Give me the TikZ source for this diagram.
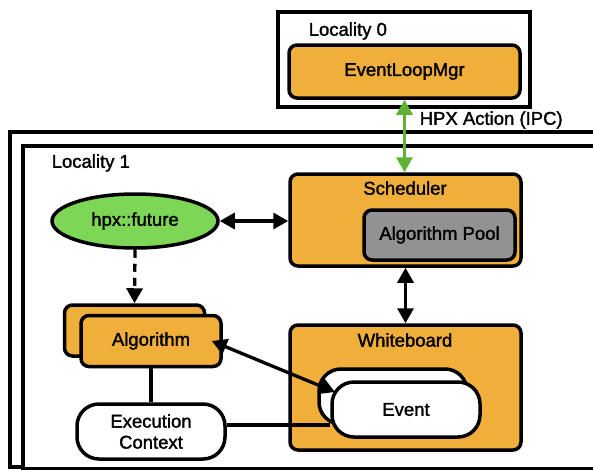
\documentclass[tikz,border=0pt]{standalone}
\usepackage{fontspec}
\setmainfont{Liberation Sans}[FakeBold=1.6]
\usetikzlibrary{arrows.meta,shapes.geometric}

\definecolor{hpxorange}{RGB}{240,174,58}
\definecolor{poolgray}{RGB}{146,146,146}
\definecolor{futgreen}{RGB}{126,214,86}
\definecolor{ipcgreen}{RGB}{96,178,52}

\begin{document}
\begin{tikzpicture}[x=1pt, y=-1pt, line width=3.5pt, font=\fontsize{18.5}{21}\selectfont,
    comp/.style={draw, fill=hpxorange, rounded corners=8pt, inner sep=0pt},
    blob/.style={draw, fill=white, rounded corners=22pt, inner sep=0pt,
                 minimum width=148pt, minimum height=55pt},
    link/.style={line width=3.3pt, {Triangle[length=15pt,width=16pt]}-{Triangle[length=15pt,width=16pt]}},
    txt/.style={inner sep=0pt}]
        \useasboundingbox (0,0) rectangle (593,471);

        \draw                       (278,12) rectangle (530,107);          %locality 0
        \node [txt, anchor=west] (loc0) at (307,31)  {Locality 0};         %
        \node [comp, minimum width=231pt, minimum height=53pt]
              (elm)   at (404.5,71.5)  {EventLoopMgr};                    %

        \draw [fill=white]          (10,132) rectangle (605,467);          %locality 1, back
        \draw [fill=white]          (23,146) rectangle (620,468.5);        %locality 1
        \node [txt, anchor=west] (loc1) at (50,163)  {Locality 1};         %

        \node [draw, ellipse, fill=futgreen, inner sep=0pt, minimum width=166pt, minimum height=54pt]
              (fut)   at (135,221)     {hpx::future};                     %

        \node [comp, minimum width=231pt, minimum height=92pt]
              (sched) at (405.5,220)   {};                                 %scheduler
        \node [txt] (schedl) at (405,188)   {Scheduler};                   %
        \node [comp, fill=poolgray, minimum width=151pt, minimum height=50pt]
              (pool)  at (439.5,235)   {Algorithm Pool};                  %

        \node [comp, minimum width=231pt, minimum height=125pt]
              (wb)    at (405.5,387.5) {};                                 %whiteboard
        \node [txt] (wbl)    at (405,340)   {Whiteboard};                  %
        \node [blob] (evb)   at (393,396.5) {};                            %
        \node [blob] (ev)    at (406,409.5) {Event};                       %

        \node [comp, minimum width=140pt, minimum height=51pt]
              (algb)  at (134.5,330.5) {};                                 %algorithms
        \node [comp, minimum width=140pt, minimum height=51pt]
              (alg)   at (151,341)     {Algorithm};                       %
        \node [blob, align=center] (exec) at (151,431.5) {Execution\\Context};

        \draw [link, ipcgreen]      (elm.south) -- (elm.south |- sched.north);
        \node [txt, anchor=west] (ipc) at (418,120) {HPX Action (IPC)};    %
        \draw [link]                (fut.east) -- (fut.east -| sched.west);
        \draw [link]                (sched.south) -- (wb.north);           %
        \draw [line width=3.3pt, dash pattern=on 8pt off 6pt, -{Triangle[length=15pt,width=16pt]}]
                                    (fut.south) -- (algb.north);           %
        \draw [line width=3.3pt]    (alg.south) -- (exec.north);           %
        \coordinate (ctx) at ([yshift=6.5pt]exec.east);                    %
        \draw [line width=3.3pt]    (ctx) -- (ctx -| ev.west);             %
        \draw [link]                ([shift={(-11,0)}]alg.east) -- ([shift={(-58,-4.5)}]evb.center);
\end{tikzpicture}
\end{document}
